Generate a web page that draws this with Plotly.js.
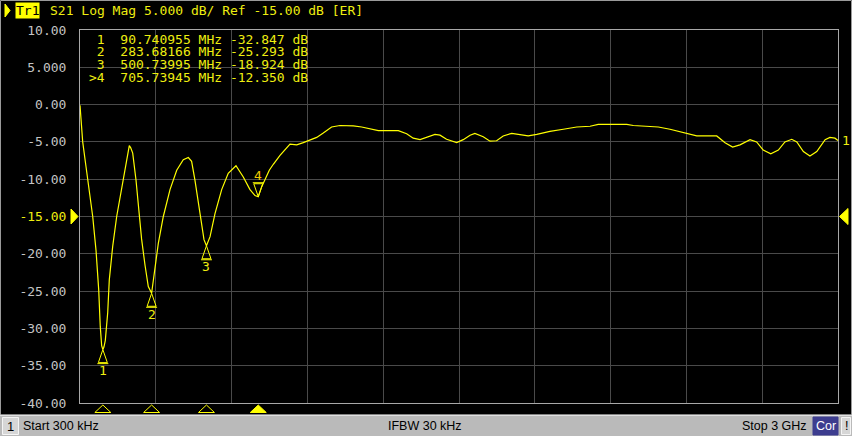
<!DOCTYPE html>
<html>
<head>
<meta charset="utf-8">
<script src="https://cdn.plot.ly/plotly-3.0.1.min.js"></script>
<style>html,body{margin:0;padding:0;background:#000;}#chart{width:852px;height:436px;}</style>
</head>
<body>
<div id="chart"></div>
<script>
// ---- data ----
const freqMHz = [0.3, 11, 24, 37, 50.6, 63.6, 74.3, 80.6, 86, 90.740955, 95, 100.5, 109.9, 116.2, 129.7, 145.5, 162.5, 182.3, 195.4, 201, 208.9, 221.9, 235, 244, 257.5, 270.6, 283.68166, 297.1, 310.2, 330, 356.5, 383, 409, 429, 442, 455, 475, 491, 500.73995, 515, 534.5, 561, 587, 617.6, 646.5, 673, 692.8, 705.73945, 719.4, 749.4, 765.3, 791.8, 831.4, 857.9, 884, 910.5, 937, 963, 996, 1029, 1082, 1115, 1148, 1181, 1227, 1260, 1293, 1319, 1346, 1372, 1405, 1425, 1451, 1491, 1517, 1544, 1563, 1596, 1623, 1649, 1675, 1709, 1735, 1774, 1808, 1860, 1913, 1966, 2019, 2051, 2098, 2164, 2190, 2230, 2289, 2335, 2388, 2441, 2520, 2553, 2583, 2612, 2652, 2678, 2704, 2734, 2764, 2790, 2817, 2837, 2863, 2889, 2916, 2949, 2968, 2988, 3000];
const s21dB = [-0.1, -5.0, -8.3, -11.4, -15.0, -19.5, -24.8, -29.8, -32.3, -32.847, -32.5, -31.6, -27.9, -23.5, -19.0, -15.0, -11.9, -7.8, -5.5, -5.8, -6.5, -10.1, -15.0, -18.0, -21.5, -24.4, -25.293, -21.7, -18.6, -15.0, -11.4, -8.8, -7.4, -7.1, -7.6, -10.1, -14.6, -18.1, -18.924, -17.7, -14.6, -11.4, -9.2, -8.2, -9.7, -11.4, -12.2, -12.350, -11.0, -8.8, -8.0, -6.8, -5.3, -5.4, -5.1, -4.8, -4.4, -3.8, -3.0, -2.8, -2.85, -3.0, -3.2, -3.5, -3.5, -3.5, -3.9, -4.5, -4.7, -4.4, -4.0, -4.1, -4.65, -5.1, -4.7, -4.1, -3.85, -4.3, -4.9, -4.85, -4.2, -3.85, -4.0, -4.2, -4.0, -3.6, -3.3, -3.0, -2.9, -2.65, -2.65, -2.65, -2.8, -2.9, -3.0, -3.3, -3.8, -4.2, -4.2, -5.1, -5.7, -5.4, -4.7, -5.0, -6.1, -6.6, -6.1, -5.0, -4.65, -5.0, -6.3, -6.9, -6.3, -4.7, -4.4, -4.5, -4.8];
const markerNum = [1, 2, 3, 4];
const markerFreq = [90.740955, 283.68166, 500.73995, 705.73945];
const markerVal = [-32.847, -25.293, -18.924, -12.350];
const activeMarker = 4;
const yTickVals = [10, 5, 0, -5, -10, -15, -20, -25, -30, -35, -40];
const yTickLabels = ['10.00', '5.000', '0.00', '-5.00', '-10.00', '-15.00', '-20.00', '-25.00', '-30.00', '-35.00', '-40.00'];
const refLevel = -15;
const startMHz = 0.3, stopMHz = 3000;
const headerText = 'S21 Log Mag 5.000 dB/ Ref -15.00 dB [ER]';
const statusStart = 'Start 300 kHz', statusIFBW = 'IFBW 30 kHz', statusStop = 'Stop 3 GHz';

// ---- styling / layout ----
const YEL = '#ffff00';
const TXT = '#eeee10';
const MONO = 'DejaVu Sans Mono, monospace';
const SANS = 'Liberation Sans, Arial, sans-serif';
const W = 852, H = 436, L = 80, R = 838, T = 30, B = 403;
const pw = R - L, ph = B - T;
const nb = '\u00a0';
function px(X) { return (X - L) / pw; }
function py(Y) { return (B - Y) / ph; }
// pixel-anchored shape (absolute image pixels)
function pshape(path, fill, line) {
  return { type: 'path', xref: 'paper', yref: 'paper', xsizemode: 'pixel', ysizemode: 'pixel',
    xanchor: 0, yanchor: 0, path: path, fillcolor: fill || 'rgba(0,0,0,0)',
    line: { color: line || 'rgba(0,0,0,0)', width: 1 }, layer: 'above' };
}
function absPath(pts, close) {
  return pts.map((p, i) => (i ? 'L' : 'M') + (p[0] - L) + ',' + (B - p[1])).join(' ') + (close ? ' Z' : '');
}

const shapes = [];
const annotations = [];

// outer window border and status bar
shapes.push(pshape(absPath([[0.5,0.5],[851.5,0.5],[851.5,415],[0.5,415]], true), 'rgba(0,0,0,0)', '#9a9a9a'));
shapes.push(pshape(absPath([[0,415],[852,415],[852,436],[0,436]], true), '#bababa', '#bababa'));
shapes.push(pshape(absPath([[0,415.5],[852,415.5]], false), null, '#e0e0e0'));
shapes.push(pshape(absPath([[2.5,417.5],[18.5,417.5],[18.5,434.5],[2.5,434.5]], true), '#d6d6d6', '#f4f4f4'));
shapes.push(pshape(absPath([[813,417],[838,417],[838,435],[813,435]], true), '#3d3d8f', '#3d3d8f'));
shapes.push(pshape(absPath([[841.5,417.5],[850.5,417.5],[850.5,434.5],[841.5,434.5]], true), '#d6d6d6', '#f4f4f4'));

// header small triangle
shapes.push(pshape(absPath([[5,4],[10,10.5],[5,17]], true), YEL, YEL));

// reference level triangles
shapes.push({ type: 'path', xref: 'paper', yref: 'y', xsizemode: 'pixel', ysizemode: 'pixel', xanchor: 0, yanchor: refLevel,
  path: 'M-9,7.5 L-2,0 L-9,-7.5 Z', fillcolor: YEL, line: { color: YEL, width: 1 }, layer: 'above' });
shapes.push({ type: 'path', xref: 'paper', yref: 'y', xsizemode: 'pixel', ysizemode: 'pixel', xanchor: 1, yanchor: refLevel,
  path: 'M10,8 L1.5,0 L10,-8 Z', fillcolor: YEL, line: { color: YEL, width: 1 }, layer: 'above' });

// markers on trace and below axis
markerNum.forEach((n, i) => {
  const active = n === activeMarker;
  shapes.push({ type: 'path', xref: 'x', yref: 'y', xsizemode: 'pixel', ysizemode: 'pixel',
    xanchor: markerFreq[i], yanchor: markerVal[i],
    path: active ? 'M0,0 L-4.5,13 L4.5,13 Z M-5.5,14 L5.5,14' : 'M0,0 L-4.5,-13 L4.5,-13 Z M-5.5,-14 L5.5,-14',
    fillcolor: 'rgba(0,0,0,0)', line: { color: YEL, width: 1 }, layer: 'above' });
  annotations.push({ xref: 'x', yref: 'y', x: markerFreq[i], y: markerVal[i], text: String(n), showarrow: false,
    yshift: active ? 21 : -21, font: { family: MONO, size: 13, color: active ? '#f0c800' : TXT } });
  shapes.push({ type: 'path', xref: 'x', yref: 'paper', xsizemode: 'pixel', ysizemode: 'pixel',
    xanchor: markerFreq[i], yanchor: 0, path: 'M-8,-9.5 L8,-9.5 L0,-2 Z',
    fillcolor: active ? YEL : 'rgba(0,0,0,0)', line: { color: YEL, width: 1 }, layer: 'above' });
});

// marker table
markerNum.forEach((n, i) => {
  const row = (n === activeMarker ? '>' : nb) + n + nb + nb + markerFreq[i].toPrecision(8) + nb + 'MHz' + nb +
    markerVal[i].toFixed(3) + nb + 'dB';
  annotations.push({ xref: 'paper', yref: 'paper', x: px(87), y: py(39 + i * 12.7), xanchor: 'left', yanchor: 'middle',
    text: row, showarrow: false, font: { family: MONO, size: 13, color: TXT } });
});

// header
annotations.push({ xref: 'paper', yref: 'paper', x: px(48), y: py(11), xanchor: 'left', yanchor: 'middle',
  text: headerText.replace(/ /g, nb), showarrow: false, font: { family: MONO, size: 13, color: TXT } });
annotations.push({ xref: 'paper', yref: 'paper', x: px(15), y: py(10.5), xanchor: 'left', yanchor: 'middle',
  text: 'Tr1', showarrow: false, bgcolor: YEL, borderpad: 0, font: { family: MONO, size: 13, color: '#000' } });

// trace end label
annotations.push({ xref: 'x', yref: 'y', x: freqMHz[freqMHz.length - 1], y: s21dB[s21dB.length - 1], xanchor: 'left',
  xshift: 2, text: '1', showarrow: false, font: { family: MONO, size: 13, color: TXT } });

// status bar texts
annotations.push({ xref: 'paper', yref: 'paper', x: px(10.5), y: py(426), xanchor: 'center', yanchor: 'middle', text: '1', showarrow: false, font: { family: SANS, size: 13, color: '#000' } });
annotations.push({ xref: 'paper', yref: 'paper', x: px(21), y: py(426), xanchor: 'left', yanchor: 'middle', text: statusStart, showarrow: false, font: { family: SANS, size: 12.5, color: '#000' } });
annotations.push({ xref: 'paper', yref: 'paper', x: px(386), y: py(426), xanchor: 'left', yanchor: 'middle', text: statusIFBW, showarrow: false, font: { family: SANS, size: 12.5, color: '#000' } });
annotations.push({ xref: 'paper', yref: 'paper', x: px(809), y: py(426), xanchor: 'right', yanchor: 'middle', text: statusStop, showarrow: false, font: { family: SANS, size: 12.5, color: '#000' } });
annotations.push({ xref: 'paper', yref: 'paper', x: px(825.5), y: py(426), xanchor: 'center', yanchor: 'middle', text: 'Cor', showarrow: false, font: { family: SANS, size: 12.5, color: '#fff' } });
annotations.push({ xref: 'paper', yref: 'paper', x: px(846), y: py(426), xanchor: 'center', yanchor: 'middle', text: '!', showarrow: false, font: { family: SANS, size: 12.5, color: '#000' } });

const tickText = yTickLabels.map((t, i) => yTickVals[i] === refLevel ? '<span style="color:' + TXT + '">' + t + '</span>' : t);

const trace = { type: 'scatter', mode: 'lines', x: freqMHz, y: s21dB, line: { color: YEL, width: 1.2 }, hoverinfo: 'skip' };

const layout = {
  width: W, height: H,
  margin: { l: L, r: W - R, t: T, b: H - B, pad: 0 },
  paper_bgcolor: '#000', plot_bgcolor: '#000',
  showlegend: false,
  xaxis: { range: [startMHz, stopMHz], tick0: startMHz, dtick: (stopMHz - startMHz) / 10, showticklabels: false,
    ticks: '', showgrid: true, gridcolor: '#4a4a4a', gridwidth: 1, zeroline: false,
    showline: true, mirror: true, linecolor: '#a8a8a8', linewidth: 1, fixedrange: true },
  yaxis: { range: [-40, 10], tickvals: yTickVals, ticktext: tickText, ticks: 'outside', ticklen: 10,
    tickcolor: 'rgba(0,0,0,0)', tickfont: { family: MONO, size: 13, color: '#c4c4c4' },
    showgrid: true, gridcolor: '#4a4a4a', gridwidth: 1, zeroline: false,
    showline: true, mirror: true, linecolor: '#a8a8a8', linewidth: 1, fixedrange: true },
  shapes: shapes,
  annotations: annotations
};

Plotly.newPlot('chart', [trace], layout, { staticPlot: true, displayModeBar: false });
</script>
</body>
</html>
